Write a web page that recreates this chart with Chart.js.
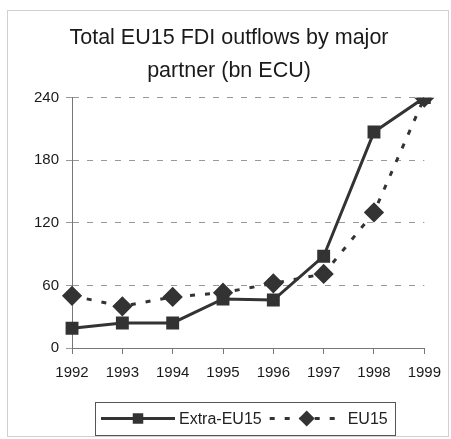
<!DOCTYPE html>
<html>
<head>
<meta charset="utf-8">
<script src="https://cdn.jsdelivr.net/npm/chart.js@4/dist/chart.umd.min.js"></script>
<style>
  html, body { margin: 0; padding: 0; background: #fff; }
  #wrap { width: 451px; height: 439px; }
</style>
</head>
<body>
<div id="wrap"><canvas id="chart" width="451" height="439"></canvas></div>
<script>
// data
const years = ['1992', '1993', '1994', '1995', '1996', '1997', '1998', '1999'];
const extraEU15 = [19, 24, 24, 47, 46, 88, 207, 240];
const eu15 = [50, 40, 49, 53, 62, 71, 130, 240];
const yTicks = [0, 60, 120, 180, 240];

const ink = '#333333';
const font = 'Arial, "Liberation Sans", sans-serif';

// frame round the whole chart
const framePlugin = {
  id: 'frame',
  beforeDraw(chart) {
    const c = chart.ctx;
    c.save();
    c.fillStyle = '#fff';
    c.fillRect(0, 0, chart.width, chart.height);
    c.strokeStyle = '#d0d0d0';
    c.lineWidth = 1;
    c.strokeRect(7.5, 10.5, chart.width - 10, chart.height - 13);
    c.restore();
  }
};

// boxed legend with line + marker samples
const boxLegend = {
  id: 'boxLegend',
  afterDraw(chart) {
    const c = chart.ctx;
    const box = { x: 95, y: 402, w: 300, h: 33 };
    const cy = box.y + box.h / 2;
    c.save();
    c.strokeStyle = '#555';
    c.lineWidth = 1;
    c.strokeRect(box.x + 0.5, box.y + 0.5, box.w, box.h);
    c.font = '16px ' + font;
    c.textBaseline = 'middle';
    let x = box.x + 6;
    chart.data.datasets.forEach((ds, i) => {
      const len = 74;
      c.strokeStyle = ds.borderColor;
      c.lineWidth = ds.borderWidth;
      c.setLineDash(ds.borderDash || []);
      c.beginPath();
      c.moveTo(x, cy);
      c.lineTo(x + len, cy);
      c.stroke();
      c.setLineDash([]);
      c.fillStyle = ds.pointBackgroundColor;
      const mx = x + len / 2, r = ds.pointRadius;
      c.beginPath();
      if (ds.pointStyle === 'rectRot') {
        c.moveTo(mx, cy - r); c.lineTo(mx + r, cy); c.lineTo(mx, cy + r); c.lineTo(mx - r, cy);
      } else {
        c.rect(mx - r * 0.75, cy - r * 0.75, r * 1.5, r * 1.5);
      }
      c.closePath();
      c.fill();
      c.fillStyle = '#222';
      c.fillText(ds.label, x + len + 4, cy + 1);
      x += len + 4 + c.measureText(ds.label).width + 8;
    });
    c.restore();
  }
};

new Chart(document.getElementById('chart'), {
  type: 'line',
  data: {
    labels: years,
    datasets: [
      {
        label: 'Extra-EU15',
        data: extraEU15,
        borderColor: ink,
        borderWidth: 3,
        pointStyle: 'rect',
        pointRadius: 7,
        pointBackgroundColor: ink,
        pointBorderColor: ink,
        tension: 0
      },
      {
        label: 'EU15',
        data: eu15,
        borderColor: ink,
        borderWidth: 3,
        borderDash: [5, 10],
        pointStyle: 'rectRot',
        pointRadius: 8,
        pointBackgroundColor: ink,
        pointBorderColor: ink,
        tension: 0
      }
    ]
  },
  options: {
    responsive: false,
    animation: false,
    layout: { padding: { left: 27, right: 20, top: 8, bottom: 47 } },
    plugins: {
      legend: { display: false },
      tooltip: { enabled: false },
      title: {
        display: true,
        text: ['Total EU15 FDI outflows by major', 'partner (bn ECU)'],
        color: '#1a1a1a',
        font: { family: font, size: 21.5, weight: 'normal', lineHeight: 1.55 },
        padding: { top: 13, bottom: 10 }
      }
    },
    scales: {
      x: {
        offset: false,
        grid: { drawOnChartArea: false, drawTicks: true, tickLength: 6, color: '#777' },
        border: { color: '#777', width: 1 },
        ticks: { color: '#1a1a1a', font: { family: font, size: 15 }, padding: 10, maxRotation: 0 }
      },
      y: {
        min: 0,
        max: 240,
        afterBuildTicks(axis) { axis.ticks = yTicks.map(v => ({ value: v })); },
        grid: { color: '#999', tickLength: 6, lineWidth: 1 },
        border: { color: '#777', width: 1, dash: [6, 8] },
        ticks: { color: '#1a1a1a', font: { family: font, size: 15 }, padding: 7 }
      }
    }
  },
  plugins: [framePlugin, boxLegend]
});
</script>
</body>
</html>
